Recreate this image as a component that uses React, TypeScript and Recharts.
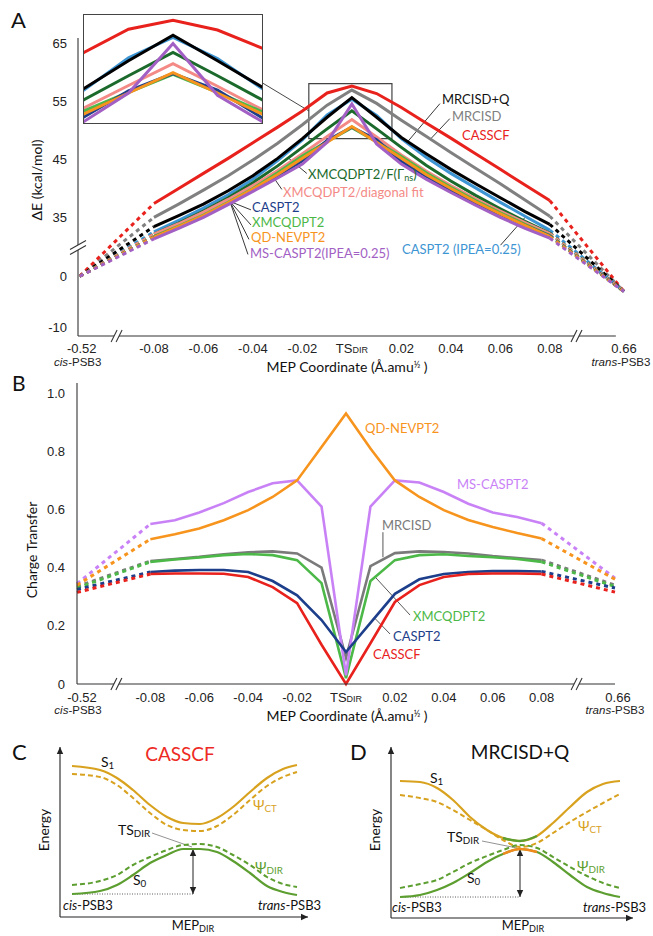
import React from 'react';
import { LineChart, Line, XAxis, YAxis, ReferenceLine, ReferenceArea, ReferenceDot } from 'recharts';

const FONT = 'Lato, "Open Sans", sans-serif';
const NUM_FONT = '"Liberation Sans", Arial, sans-serif';

// MEP coordinate of the computed points (solid part of every curve)
const mep = [-0.08, -0.07, -0.06, -0.05, -0.04, -0.03, -0.02, -0.01, 0, 0.01, 0.02, 0.03, 0.04, 0.05, 0.06, 0.07, 0.08];
// cis-PSB3 (-0.52) and trans-PSB3 (0.66) sit after the axis breaks
const endPos = [-0.11, 0.11];
const xTicks = [-0.11, -0.08, -0.06, -0.04, -0.02, 0, 0.02, 0.04, 0.06, 0.08, 0.11];
const xTickText = ['-0.52', '-0.08', '-0.06', '-0.04', '-0.02', 'TS', '0.02', '0.04', '0.06', '0.08', '0.66'];

// ---- panel A : energy profiles (kcal/mol) ----
const casscfA = [37.4, 40.0, 42.6, 45.2, 47.9, 50.6, 53.4, 56.5, 57.7, 56.4, 54.0, 51.3, 48.7, 46.0, 43.3, 40.6, 37.9];
const mrcisdA = [35.0, 37.3, 39.7, 42.2, 44.9, 47.8, 51.0, 54.4, 57.0, 54.7, 51.8, 49.0, 46.2, 43.5, 40.8, 38.0, 35.2];
const mrcisdqA = [33.4, 35.3, 37.3, 39.6, 42.2, 45.2, 48.6, 52.3, 55.7, 52.3, 48.8, 46.0, 43.3, 40.8, 38.4, 36.0, 33.8];
const caspt2IpeaA = [32.5, 34.5, 36.6, 38.9, 41.6, 44.8, 48.4, 52.7, 55.4, 52.6, 48.6, 45.4, 42.6, 40.1, 37.6, 35.2, 32.8];
const xmcFA = [32.1, 34.0, 36.1, 38.4, 41.0, 43.9, 47.1, 50.3, 53.4, 50.3, 47.1, 44.0, 41.3, 38.8, 36.5, 34.3, 32.3];
const xmcDiagA = [32.1, 33.9, 35.9, 38.1, 40.5, 43.1, 46.0, 49.0, 51.9, 48.9, 45.8, 43.0, 40.5, 38.2, 36.1, 34.1, 32.2];
const xmcqdpt2A = [31.7, 33.5, 35.4, 37.6, 40.0, 42.7, 45.6, 48.1, 50.5, 48.1, 45.5, 42.7, 40.2, 37.9, 35.8, 33.8, 31.9];
const caspt2A = [31.6, 33.3, 35.2, 37.4, 39.7, 42.2, 44.8, 48.3, 50.6, 48.4, 44.7, 42.1, 39.7, 37.5, 35.5, 33.6, 31.8];
const qdnevptA = [31.6, 33.4, 35.3, 37.5, 39.9, 42.4, 45.2, 48.0, 50.7, 48.0, 45.2, 42.4, 40.0, 37.7, 35.6, 33.6, 31.7];
const msCaspt2A = [31.3, 33.1, 35.0, 37.2, 39.5, 41.8, 44.2, 48.0, 54.6, 47.7, 44.2, 41.6, 39.3, 37.1, 35.0, 33.1, 31.4];
const cisEndA = [0, 0, 0, 0, 0, 0, 0, 0, 0, 0];
const transEndA = [-3, -3, -3, -3, -3, -3, -3, -3, -3, -3];
const yTicksA = [-10, 0, 35, 45, 55, 65];

// broken energy axis: below the break the scale is compressed
const A_ZERO = 24.83;
const A_LOW = 0.88;
const toDispA = (v: number) => (v >= 25 ? v : A_ZERO + A_LOW * v);
const yTickPosA = yTicksA.map(toDispA);

const seriesA = [
  { key: 'mrcisd', color: '#808080', values: mrcisdA, inset: false },
  { key: 'casscf', color: '#e8211c', values: casscfA, inset: true },
  { key: 'caspt2Ipea', color: '#3d95d3', values: caspt2IpeaA, inset: true },
  { key: 'mrcisdq', color: '#000000', values: mrcisdqA, inset: true },
  { key: 'xmcF', color: '#1b6a2c', values: xmcFA, inset: true },
  { key: 'xmcDiag', color: '#f48a86', values: xmcDiagA, inset: true },
  { key: 'xmcqdpt2', color: '#4cb848', values: xmcqdpt2A, inset: true },
  { key: 'caspt2', color: '#1d3e8a', values: caspt2A, inset: true },
  { key: 'qdnevpt', color: '#f7941d', values: qdnevptA, inset: true },
  { key: 'msCaspt2', color: '#a25fc4', values: msCaspt2A, inset: true },
];

// ---- panel B : charge transfer ----
const casscfB = [0.378, 0.38, 0.38, 0.379, 0.368, 0.333, 0.278, 0.135, 0.0, 0.14, 0.282, 0.34, 0.368, 0.378, 0.38, 0.38, 0.378];
const caspt2B = [0.385, 0.39, 0.392, 0.392, 0.385, 0.354, 0.305, 0.22, 0.11, 0.21, 0.31, 0.36, 0.378, 0.385, 0.388, 0.388, 0.387];
const xmcqdpt2B = [0.42, 0.428, 0.435, 0.443, 0.447, 0.443, 0.426, 0.347, 0.02, 0.354, 0.426, 0.443, 0.446, 0.44, 0.436, 0.43, 0.42];
const mrcisdB = [0.423, 0.43, 0.437, 0.446, 0.453, 0.456, 0.449, 0.4, 0.09, 0.405, 0.45, 0.456, 0.454, 0.449, 0.44, 0.433, 0.426];
const qdnevptB = [0.498, 0.515, 0.535, 0.563, 0.598, 0.643, 0.7, 0.815, 0.93, 0.81, 0.7, 0.643, 0.598, 0.564, 0.54, 0.519, 0.5];
const msCaspt2B = [0.55, 0.563, 0.59, 0.622, 0.66, 0.69, 0.7, 0.61, 0.03, 0.61, 0.7, 0.693, 0.66, 0.62, 0.59, 0.574, 0.553];
const cisEndB = [0.335, 0.33, 0.345, 0.34, 0.325, 0.315];
const transEndB = [0.34, 0.335, 0.364, 0.36, 0.33, 0.316];
const yTicksB = [0, 0.2, 0.4, 0.6, 0.8, 1.0];

const seriesB = [
  { key: 'mrcisd', color: '#7a7a7a', values: mrcisdB },
  { key: 'xmcqdpt2', color: '#4cb848', values: xmcqdpt2B },
  { key: 'msCaspt2', color: '#c982f6', values: msCaspt2B },
  { key: 'qdnevpt', color: '#f7941d', values: qdnevptB },
  { key: 'caspt2', color: '#1d3e8a', values: caspt2B },
  { key: 'casscf', color: '#e8211c', values: casscfB },
];

// ---- panels C and D : schematic potential curves ----
const xsC = [12, 40, 57, 73, 90, 107, 123, 140, 157, 173, 190, 207, 223, 237];
const s1C = [151, 147, 139, 127, 112, 100, 94, 93, 99, 110, 125, 139, 148, 152];
const ctC = [143, 140, 132, 119, 104, 92, 87, 86, 91, 102, 117, 131, 140, 145];
const s0C = [23, 26, 32, 42, 54, 62, 68, 68, 65, 56, 44, 31, 25, 22];
const dirC = [32, 36, 42, 52, 60, 67, 72, 73, 70, 62, 52, 40, 33, 30];

const xsD = [9, 29, 46, 62, 79, 96, 112, 129, 146, 162, 179, 196, 212, 229];
const s1D = [137, 136, 130, 118, 101, 88, 80, 77, 82, 95, 111, 126, 134, 137];
const ctD = [123, 120, 116, 108, 98, 88, 78, 71, 75, 85, 96, 106, 115, 124];
const dirD = [30, 34, 38, 46, 55, 62, 68, 73, 70, 61, 51, 42, 35, 30];
const s0D = [21, 23, 28, 35, 45, 56, 64, 69, 66, 56, 43, 31, 25, 21];
const midD = [6, 7, 8]; // avoided-crossing region where the state character swaps

const GOLD = '#d8a21f';
const GREEN = '#5c9e2f';

type Series = { key: string; values: number[] };

function buildRows(series: Series[], cisEnd: number[], transEnd: number[], map = (v: number) => v) {
  const first: any = { x: endPos[0] };
  const last: any = { x: endPos[1] };
  series.forEach((s, i) => {
    first[s.key + 'D'] = map(cisEnd[i]);
    last[s.key + 'D'] = map(transEnd[i]);
  });
  const mid = mep.map((x, j) => {
    const r: any = { x };
    series.forEach((s) => {
      r[s.key] = map(s.values[j]);
      r[s.key + 'D'] = j === 0 || j === mep.length - 1 ? map(s.values[j]) : null;
    });
    return r;
  });
  return [first, ...mid, last];
}

const rowsA = buildRows(seriesA, cisEndA, transEndA, toDispA);
const rowsB = buildRows(seriesB, cisEndB, transEndB);

const rowsC = xsC.map((x, i) => ({ x, s1: s1C[i], ct: ctC[i], s0: s0C[i], dir: dirC[i] }));
const rowsD = xsD.map((x, i) => ({
  x,
  s1: s1D[i],
  ct: ctD[i],
  s0: s0D[i],
  dir: dirD[i],
  s1Mid: midD.includes(i) ? s1D[i] : null,
  s0Mid: midD.includes(i) ? s0D[i] : null,
}));

const mepTick = (endDx: number[], subDy: number) => (props: any) => {
  const { x, y, payload } = props;
  const i = xTicks.findIndex((t) => Math.abs(t - payload.value) < 1e-6);
  const label = xTickText[i];
  const dx = i === 0 ? endDx[0] : i === xTicks.length - 1 ? endDx[1] : 0;
  return (
    <g>
      <text x={x + dx} y={y} dy="0.71em" textAnchor="middle" fontSize={13} fill="#222" fontFamily={NUM_FONT}>
        {label === 'TS' ? (
          <>
            <tspan>TS</tspan>
            <tspan fontSize={9}>DIR</tspan>
          </>
        ) : (
          label
        )}
      </text>
      {i === 0 && (
        <text x={x + dx - 4} y={y + subDy} dy="0.71em" textAnchor="middle" fontSize={11.5} fill="#222" fontFamily={NUM_FONT}>
          <tspan fontStyle="italic">cis</tspan>-PSB3
        </text>
      )}
      {i === xTicks.length - 1 && (
        <text x={x + dx - 3} y={y + subDy} dy="0.71em" textAnchor="middle" fontSize={11.5} fill="#222" fontFamily={NUM_FONT}>
          <tspan fontStyle="italic">trans</tspan>-PSB3
        </text>
      )}
    </g>
  );
};

// "//" axis-break marks
const breakOnX = (p: any) => {
  const { cx, cy } = p;
  if (cx == null) return null;
  return (
    <g>
      <polygon points={`${cx - 6},${cy + 6} ${cx},${cy - 6} ${cx + 5},${cy - 6} ${cx - 1},${cy + 6}`} fill="#fff" />
      <line x1={cx - 6} y1={cy + 6} x2={cx} y2={cy - 6} stroke="#333" strokeWidth={1.1} />
      <line x1={cx - 1} y1={cy + 6} x2={cx + 5} y2={cy - 6} stroke="#333" strokeWidth={1.1} />
    </g>
  );
};
const breakOnY = (p: any) => {
  const { cx, cy } = p;
  if (cx == null) return null;
  return (
    <g>
      <polygon points={`${cx - 8},${cy + 7} ${cx + 8},${cy - 2} ${cx + 8},${cy - 7} ${cx - 8},${cy + 2}`} fill="#fff" />
      <line x1={cx - 8} y1={cy + 7} x2={cx + 8} y2={cy - 2} stroke="#333" strokeWidth={1.1} />
      <line x1={cx - 8} y1={cy + 2} x2={cx + 8} y2={cy - 7} stroke="#333" strokeWidth={1.1} />
    </g>
  );
};

const arrowShape = (both: boolean, width = 1.1) => (p: any) => {
  const { x1, y1, x2, y2 } = p;
  if (x1 == null) return null;
  const head = (ax: number, ay: number, bx: number, by: number) => {
    const ang = Math.atan2(by - ay, bx - ax);
    const L = 7;
    const w = 3.2;
    const px = bx - L * Math.cos(ang);
    const py = by - L * Math.sin(ang);
    const ox = -Math.sin(ang) * w;
    const oy = Math.cos(ang) * w;
    return <polygon points={`${bx},${by} ${px + ox},${py + oy} ${px - ox},${py - oy}`} fill="#222" />;
  };
  return (
    <g>
      <line x1={x1} y1={y1} x2={x2} y2={y2} stroke="#222" strokeWidth={width} />
      {head(x1, y1, x2, y2)}
      {both && head(x2, y2, x1, y1)}
    </g>
  );
};

function Txt({ x, y, color = '#111', size = 13, anchor = 'start', rotate, family = FONT, children }: any) {
  const tx = anchor === 'middle' ? '-50%' : anchor === 'end' ? '-100%' : '0';
  return (
    <div
      style={{
        position: 'absolute',
        left: x,
        top: y,
        transform: `translate(${tx}, -50%)${rotate ? ` rotate(${rotate}deg)` : ''}`,
        color,
        fontSize: size,
        lineHeight: 1,
        whiteSpace: 'nowrap',
        fontFamily: family,
      }}
    >
      {children}
    </div>
  );
}

const Sub = ({ children }: any) => <span style={{ fontSize: '0.7em', verticalAlign: '-0.15em', lineHeight: 1 }}>{children}</span>;

const axisStroke = { stroke: '#333', strokeWidth: 1.1 };

export default function App() {
  return (
    <div style={{ position: 'absolute', left: 0, top: 0, width: 653, height: 936, background: '#fff', overflow: 'hidden', fontFamily: FONT }}>
      {/* ---------- A ---------- */}
      <div style={{ position: 'absolute', left: 0, top: 0 }}>
        <LineChart width={653} height={375} data={rowsA} margin={{ top: 38, right: 29, bottom: 0, left: 0 }}>
          <XAxis dataKey="x" type="number" domain={[-0.1107, 0.11]} ticks={xTicks} interval={0} tick={mepTick([2, 0], 14)} tickLine={false} axisLine={false} tickSize={0} tickMargin={8} height={39} />
          <YAxis
            type="number"
            domain={[14.5, 66]}
            ticks={yTickPosA}
            interval={0}
            tickFormatter={(v: number) => String(yTicksA[yTickPosA.findIndex((t) => Math.abs(t - v) < 1e-6)])}
            tick={{ fontSize: 13, fill: '#222', fontFamily: NUM_FONT }}
            tickLine={false}
            tickSize={0}
            tickMargin={11}
            axisLine={axisStroke}
            width={78}
          />
          <ReferenceLine segment={[{ x: -0.1107, y: 14.5 }, { x: 0.1067, y: 14.5 }]} stroke="#333" strokeWidth={1.1} ifOverflow="visible" />
          <ReferenceArea x1={-0.0174} x2={0.0162} y1={48.6} y2={58.1} fill="none" stroke="#444" strokeWidth={1.2} ifOverflow="visible" />
          <ReferenceLine segment={[{ x: -0.0364, y: 58.3 }, { x: -0.0174, y: 53.4 }]} stroke="#333" strokeWidth={0.9} ifOverflow="visible" />
          {/* leader lines */}
          <ReferenceLine segment={[{ x: 0.0356, y: 54.66 }, { x: 0.0226, y: 48.1 }]} stroke="#222" strokeWidth={0.9} ifOverflow="visible" />
          <ReferenceLine segment={[{ x: 0.0396, y: 52.07 }, { x: 0.0315, y: 48.4 }]} stroke="#222" strokeWidth={0.9} ifOverflow="visible" />
          <ReferenceLine segment={[{ x: -0.0182, y: 42.59 }, { x: -0.0255, y: 45.2 }]} stroke="#222" strokeWidth={0.9} ifOverflow="visible" />
          <ReferenceLine segment={[{ x: -0.0283, y: 39.83 }, { x: -0.0323, y: 42.3 }]} stroke="#222" strokeWidth={0.9} ifOverflow="visible" />
          <ReferenceLine segment={[{ x: -0.0493, y: 37.76 }, { x: -0.0408, y: 36.3 }]} stroke="#222" strokeWidth={0.9} ifOverflow="visible" />
          <ReferenceLine segment={[{ x: -0.0493, y: 37.76 }, { x: -0.0408, y: 33.7 }]} stroke="#222" strokeWidth={0.9} ifOverflow="visible" />
          <ReferenceLine segment={[{ x: -0.0493, y: 37.76 }, { x: -0.0416, y: 31.2 }]} stroke="#222" strokeWidth={0.9} ifOverflow="visible" />
          <ReferenceLine segment={[{ x: -0.0493, y: 37.76 }, { x: -0.042, y: 28.6 }]} stroke="#222" strokeWidth={0.9} ifOverflow="visible" />
          <ReferenceLine segment={[{ x: 0.0601, y: 30.2 }, { x: 0.07, y: 35.0 }]} stroke="#222" strokeWidth={0.9} ifOverflow="visible" />
          {seriesA.map((s) => (
            <Line key={s.key + 'D'} dataKey={s.key + 'D'} stroke={s.color} strokeWidth={3} strokeDasharray="4 4" dot={false} isAnimationActive={false} type="linear" />
          ))}
          {seriesA.map((s) => (
            <Line key={s.key} dataKey={s.key} stroke={s.color} strokeWidth={3} dot={false} isAnimationActive={false} type="linear" />
          ))}
          <ReferenceDot x={-0.0949} y={14.5} r={0} shape={breakOnX} ifOverflow="visible" />
          <ReferenceDot x={0.091} y={14.5} r={0} shape={breakOnX} ifOverflow="visible" />
          <ReferenceDot x={-0.1107} y={29.8} r={0} shape={breakOnY} ifOverflow="visible" />
        </LineChart>
      </div>

      {/* inset zoom of the TS region */}
      <div style={{ position: 'absolute', left: 83, top: 14, width: 180, height: 110, border: '1.2px solid #444', boxSizing: 'border-box', background: '#fff' }}>
        <LineChart width={178} height={108} data={rowsA} margin={{ top: 0, right: 0, bottom: 0, left: 0 }}>
          <XAxis dataKey="x" type="number" domain={[-0.02, 0.02]} allowDataOverflow hide />
          <YAxis type="number" domain={[44, 58.4]} allowDataOverflow hide />
          {seriesA
            .filter((s) => s.inset)
            .map((s) => (
              <Line key={s.key} dataKey={s.key} stroke={s.color} strokeWidth={3} dot={false} isAnimationActive={false} type="linear" />
            ))}
        </LineChart>
      </div>

      <Txt x={11} y={20} size={22} color="#111">A</Txt>
      <Txt x={37} y={180} size={14} anchor="middle" rotate={-90}>ΔE (kcal/mol)</Txt>
      <Txt x={347} y={367} size={14} anchor="middle">
        MEP Coordinate (Å.amu<span style={{ fontSize: 9, verticalAlign: '0.4em' }}>½</span> )
      </Txt>
      <Txt x={442} y={99} color="#111">MRCISD+Q</Txt>
      <Txt x={452} y={116} color="#808080">MRCISD</Txt>
      <Txt x={462} y={135} color="#e8211c">CASSCF</Txt>
      <Txt x={308} y={175} color="#1b6a2c">
        XMCQDPT2/F(Γ<Sub>ns</Sub>)
      </Txt>
      <Txt x={283} y={192} color="#f48a86">XMCQDPT2/diagonal fit</Txt>
      <Txt x={252} y={207} color="#1d3e8a">CASPT2</Txt>
      <Txt x={252} y={222} color="#4cb848">XMCQDPT2</Txt>
      <Txt x={251} y={237} color="#f7941d">QD-NEVPT2</Txt>
      <Txt x={250} y={253} color="#a25fc4">MS-CASPT2(IPEA=0.25)</Txt>
      <Txt x={402} y={249} color="#3d95d3">CASPT2 (IPEA=0.25)</Txt>

      {/* ---------- B ---------- */}
      <div style={{ position: 'absolute', left: 0, top: 375 }}>
        <LineChart width={653} height={345} data={rowsB} margin={{ top: 8, right: 38, bottom: 0, left: 0 }}>
          <XAxis dataKey="x" type="number" domain={[-0.11, 0.11]} ticks={xTicks} interval={0} tick={mepTick([5, 3], 13)} tickLine={false} axisLine={axisStroke} tickSize={0} tickMargin={9} height={36} />
          <YAxis
            type="number"
            domain={[0, 1.035]}
            ticks={yTicksB}
            interval={0}
            tickFormatter={(v: number) => (v === 0 ? '0' : v.toFixed(1))}
            tick={{ fontSize: 13, fill: '#222', fontFamily: NUM_FONT }}
            tickLine={false}
            tickSize={0}
            tickMargin={12}
            axisLine={axisStroke}
            width={77}
          />
          <ReferenceLine segment={[{ x: 0.0151, y: 0.522 }, { x: 0.0151, y: 0.436 }]} stroke="#444" strokeWidth={0.9} ifOverflow="visible" />
          <ReferenceLine segment={[{ x: 0.0119, y: 0.368 }, { x: 0.0262, y: 0.237 }]} stroke="#444" strokeWidth={0.9} ifOverflow="visible" />
          <ReferenceLine segment={[{ x: 0.0119, y: 0.225 }, { x: 0.018, y: 0.172 }]} stroke="#444" strokeWidth={0.9} ifOverflow="visible" />
          {seriesB.map((s) => (
            <Line key={s.key + 'D'} dataKey={s.key + 'D'} stroke={s.color} strokeWidth={3} strokeDasharray="4 4" dot={false} isAnimationActive={false} type="linear" />
          ))}
          {seriesB.map((s) => (
            <Line key={s.key} dataKey={s.key} stroke={s.color} strokeWidth={2.6} dot={false} isAnimationActive={false} type="linear" />
          ))}
          <ReferenceDot x={-0.0937} y={0} r={0} shape={breakOnX} ifOverflow="visible" />
          <ReferenceDot x={0.0945} y={0} r={0} shape={breakOnX} ifOverflow="visible" />
        </LineChart>
      </div>

      <Txt x={12} y={382} size={21} color="#111">B</Txt>
      <Txt x={32} y={550} size={14} anchor="middle" rotate={-90}>Charge Transfer</Txt>
      <Txt x={347} y={716} size={14} anchor="middle">
        MEP Coordinate (Å.amu<span style={{ fontSize: 9, verticalAlign: '0.4em' }}>½</span> )
      </Txt>
      <Txt x={365} y={428} color="#f7941d">QD-NEVPT2</Txt>
      <Txt x={457} y={484} color="#c982f6">MS-CASPT2</Txt>
      <Txt x={382} y={525} color="#7a7a7a">MRCISD</Txt>
      <Txt x={413} y={616} color="#4cb848">XMCQDPT2</Txt>
      <Txt x={393} y={636} color="#1d3e8a">CASPT2</Txt>
      <Txt x={373} y={654} color="#e8211c">CASSCF</Txt>

      {/* ---------- C ---------- */}
      <div style={{ position: 'absolute', left: 0, top: 720 }}>
        <LineChart width={320} height={216} data={rowsC} margin={{ top: 27, right: 12, bottom: 19, left: 60 }}>
          <XAxis dataKey="x" type="number" domain={[0, 248]} hide />
          <YAxis type="number" domain={[0, 170]} hide />
          <ReferenceLine segment={[{ x: 0, y: 0 }, { x: 0, y: 170 }]} shape={arrowShape(false)} ifOverflow="visible" />
          <ReferenceLine segment={[{ x: 0, y: 0 }, { x: 248, y: 0 }]} shape={arrowShape(false)} ifOverflow="visible" />
          <ReferenceLine segment={[{ x: 12, y: 23 }, { x: 133, y: 23 }]} stroke="#333" strokeWidth={0.8} strokeDasharray="1 1.5" ifOverflow="visible" />
          <ReferenceLine segment={[{ x: 133, y: 23 }, { x: 133, y: 68 }]} shape={arrowShape(true, 1)} ifOverflow="visible" />
          <ReferenceLine segment={[{ x: 92, y: 84 }, { x: 132, y: 70 }]} stroke="#777" strokeWidth={0.8} ifOverflow="visible" />
          <Line dataKey="ct" stroke={GOLD} strokeWidth={2} strokeDasharray="5 3" dot={false} isAnimationActive={false} type="monotone" />
          <Line dataKey="dir" stroke={GREEN} strokeWidth={2} strokeDasharray="5 3" dot={false} isAnimationActive={false} type="monotone" />
          <Line dataKey="s1" stroke={GOLD} strokeWidth={2.2} dot={false} isAnimationActive={false} type="monotone" />
          <Line dataKey="s0" stroke={GREEN} strokeWidth={2.2} dot={false} isAnimationActive={false} type="monotone" />
        </LineChart>
      </div>
      <Txt x={12} y={752} size={22} color="#111">C</Txt>
      <Txt x={180} y={753} size={19} anchor="middle" color="#ee2a24">CASSCF</Txt>
      <Txt x={101} y={763} size={14}>S<Sub>1</Sub></Txt>
      <Txt x={253} y={806} size={14} color={GOLD}>Ψ<Sub>CT</Sub></Txt>
      <Txt x={118} y={831} size={14}>TS<Sub>DIR</Sub></Txt>
      <Txt x={255} y={868} size={14} color={GREEN}>Ψ<Sub>DIR</Sub></Txt>
      <Txt x={133} y={881} size={14}>S<Sub>0</Sub></Txt>
      <Txt x={63} y={905} size={13}>
        <i>cis</i>-PSB3
      </Txt>
      <Txt x={258} y={905} size={13}>
        <i>trans</i>-PSB3
      </Txt>
      <Txt x={193} y={926} size={13} anchor="middle">MEP<Sub>DIR</Sub></Txt>
      <Txt x={44} y={830} size={14} anchor="middle" rotate={-90}>Energy</Txt>

      {/* ---------- D ---------- */}
      <div style={{ position: 'absolute', left: 320, top: 720 }}>
        <LineChart width={333} height={216} data={rowsD} margin={{ top: 27, right: 20, bottom: 18, left: 71 }}>
          <XAxis dataKey="x" type="number" domain={[0, 242]} hide />
          <YAxis type="number" domain={[0, 171]} hide />
          <ReferenceLine segment={[{ x: 0, y: 0 }, { x: 0, y: 171 }]} shape={arrowShape(false)} ifOverflow="visible" />
          <ReferenceLine segment={[{ x: 0, y: 0 }, { x: 242, y: 0 }]} shape={arrowShape(false)} ifOverflow="visible" />
          <ReferenceLine segment={[{ x: 9, y: 21 }, { x: 129, y: 21 }]} stroke="#333" strokeWidth={0.8} strokeDasharray="1 1.5" ifOverflow="visible" />
          <ReferenceLine segment={[{ x: 129, y: 21 }, { x: 129, y: 69 }]} shape={arrowShape(true, 1)} ifOverflow="visible" />
          <ReferenceLine segment={[{ x: 91, y: 77 }, { x: 126, y: 70 }]} stroke="#777" strokeWidth={0.8} ifOverflow="visible" />
          <Line dataKey="ct" stroke={GOLD} strokeWidth={2} strokeDasharray="5 3" dot={false} isAnimationActive={false} type="monotone" />
          <Line dataKey="dir" stroke={GREEN} strokeWidth={2} strokeDasharray="5 3" dot={false} isAnimationActive={false} type="monotone" />
          <Line dataKey="s1" stroke={GOLD} strokeWidth={2.2} dot={false} isAnimationActive={false} type="monotone" />
          <Line dataKey="s0" stroke={GREEN} strokeWidth={2.2} dot={false} isAnimationActive={false} type="monotone" />
          <Line dataKey="s1Mid" stroke={GREEN} strokeWidth={2.4} dot={false} isAnimationActive={false} type="monotone" />
          <Line dataKey="s0Mid" stroke="#f08a1c" strokeWidth={2.4} dot={false} isAnimationActive={false} type="monotone" />
        </LineChart>
      </div>
      <Txt x={350} y={752} size={22} color="#111">D</Txt>
      <Txt x={520} y={751} size={19} anchor="middle">MRCISD+Q</Txt>
      <Txt x={430} y={779} size={14}>S<Sub>1</Sub></Txt>
      <Txt x={578} y={827} size={14} color={GOLD}>Ψ<Sub>CT</Sub></Txt>
      <Txt x={447} y={838} size={14}>TS<Sub>DIR</Sub></Txt>
      <Txt x={577} y={867} size={14} color={GREEN}>Ψ<Sub>DIR</Sub></Txt>
      <Txt x={467} y={879} size={14}>S<Sub>0</Sub></Txt>
      <Txt x={392} y={907} size={13}>
        <i>cis</i>-PSB3
      </Txt>
      <Txt x={583} y={907} size={13}>
        <i>trans</i>-PSB3
      </Txt>
      <Txt x={523} y={926} size={13} anchor="middle">MEP<Sub>DIR</Sub></Txt>
      <Txt x={375} y={830} size={14} anchor="middle" rotate={-90}>Energy</Txt>
    </div>
  );
}
